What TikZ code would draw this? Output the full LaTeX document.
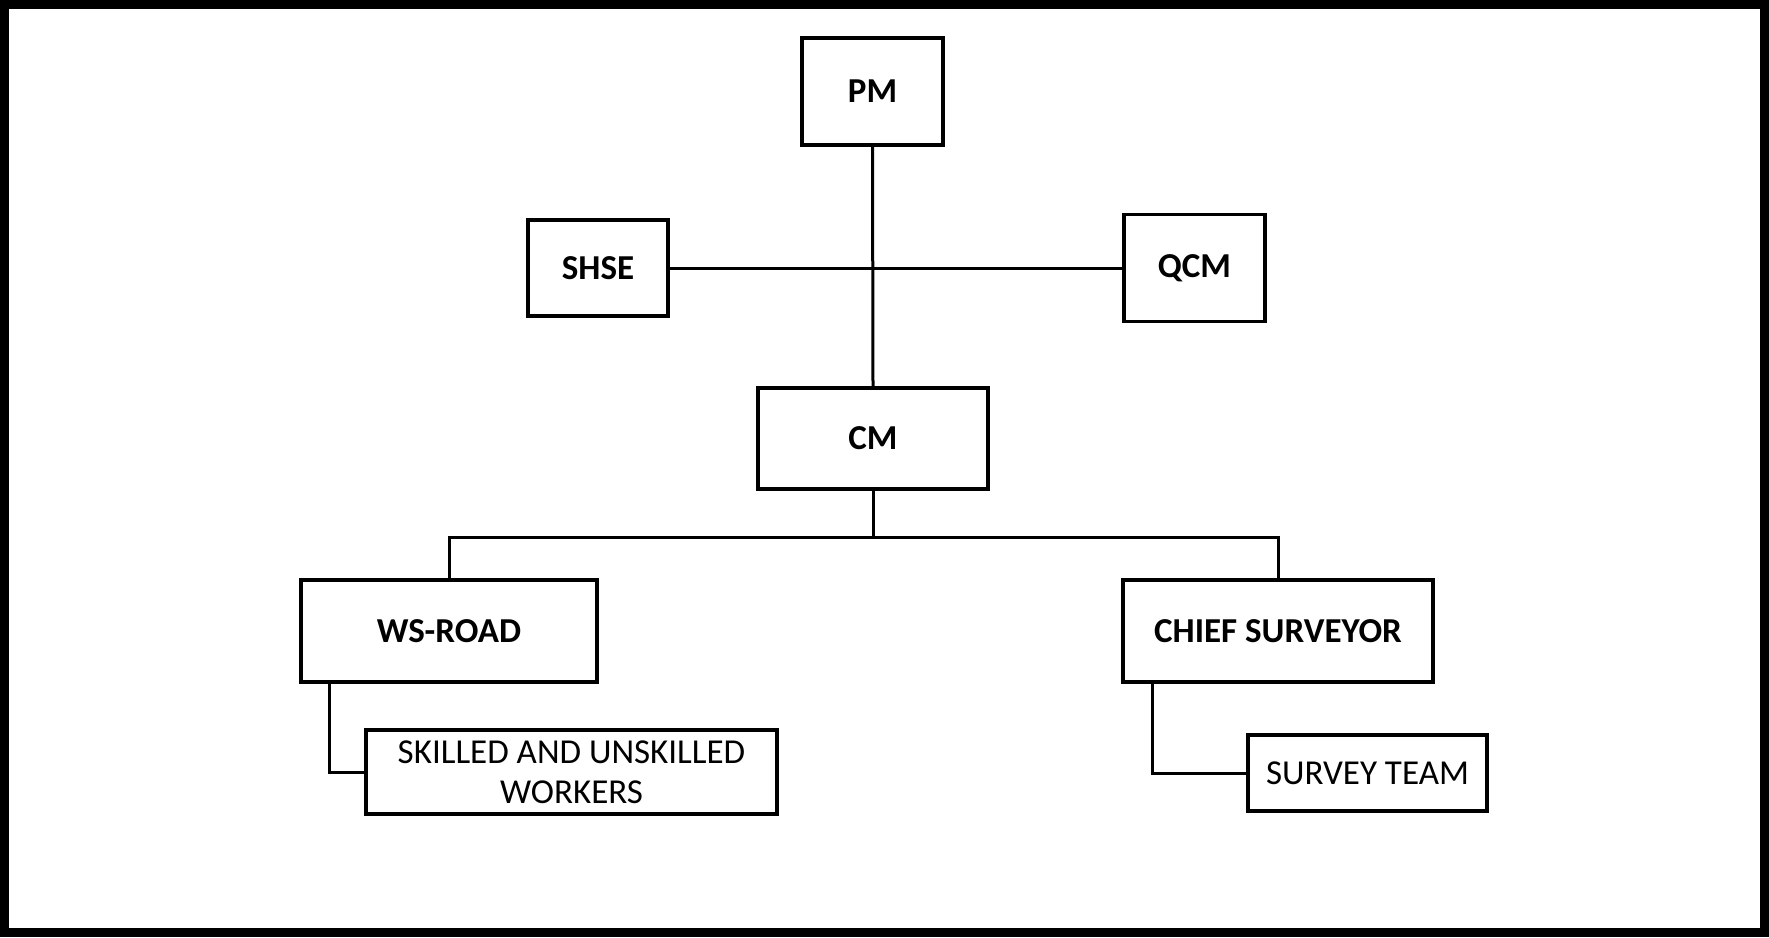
\documentclass[tikz,border=0pt]{standalone}
\usepackage{fontspec}
\setmainfont{Carlito}
\usepackage{tikz}
\tikzset{x=1pt,y=-1pt,
    unit/.style={draw,line width=3.5pt,inner sep=0pt,
        font=\fontsize{35}{40}\selectfont\bfseries},
    crew/.style={unit,align=center,font=\fontsize{35}{40}\selectfont},
    link/.style={draw,line width=3pt}}

\begin{document}
\begin{tikzpicture}[]
    \useasboundingbox (0,0) rectangle (1769,937);
    \draw[line width=9pt] (4.5,4.5) rectangle (1764.5,932.5);
    \node[unit,minimum width=141,minimum height=107] (pm) at (872.5,91.5) {PM};
    \node[unit,minimum width=140,minimum height=96] (shse) at (598,268) {SHSE};
    \node[unit,minimum width=141,minimum height=107] (qcm) at (1194.5,268) {QCM};
    \node[unit,minimum width=230,minimum height=101] (cm) at (873,438.5) {CM};
    \node[unit,minimum width=296,minimum height=102] (ws) at (449,631) {WS-ROAD};
    \node[unit,minimum width=310,minimum height=102] (cs) at (1278,631) {CHIEF SURVEYOR};
    \node[crew,minimum width=411,minimum height=84] (skilled) at (571.5,772)
        {SKILLED AND UNSKILLED\\WORKERS};
    \node[crew,minimum width=239,minimum height=76] (survey) at (1367.5,773) {SURVEY TEAM};
    \coordinate (bus) at (873,537);
    \draw[link] (pm.south) -- (cm.north);
    \draw[link] (shse.east) -- (qcm.west);
    \draw[link] (cm.south) -- (bus) -| (ws.north);
    \draw[link] (bus) -| (cs.north);
    \draw[link] ([xshift=30]ws.south west) |- (skilled.west);
    \draw[link] ([xshift=31]cs.south west) |- (survey.west);
\end{tikzpicture}
\end{document}
